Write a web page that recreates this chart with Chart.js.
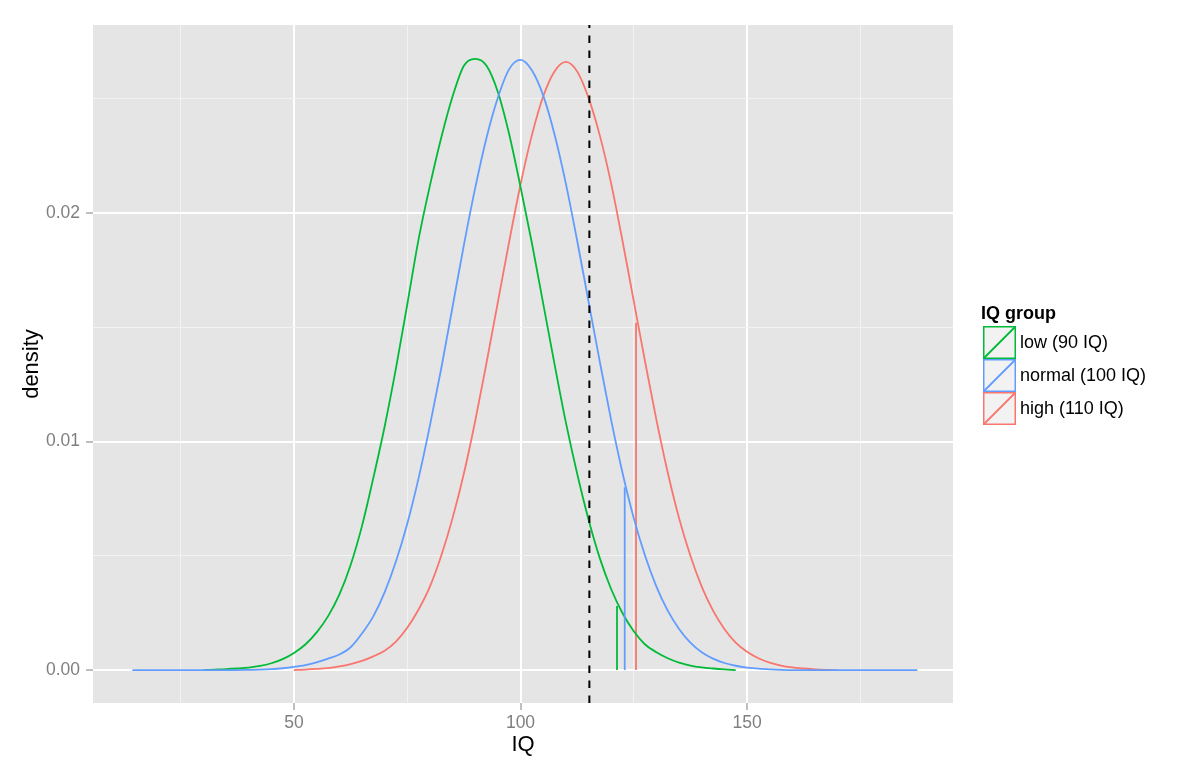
<!DOCTYPE html>
<html>
<head>
<meta charset="utf-8">
<script src="https://cdn.jsdelivr.net/npm/chart.js@4.4.1/dist/chart.umd.min.js"></script>
<style>
  body { margin: 0; background: #fff; font-family: 'Liberation Sans', Arial, sans-serif; }
  #wrap { position: relative; width: 1200px; height: 773px; }
  #legend { position: absolute; left: 981px; top: 302px; }
  #legend .title { font-weight: bold; font-size: 18px; height: 24px; line-height: 22px; }
  #legend .item { display: flex; align-items: center; height: 33px; }
  #legend .item svg { display: block; margin-left: 2px; margin-right: 4px; }
  #legend .item span { font-size: 18px; }
</style>
</head>
<body>
<div id="wrap">
  <canvas id="chart" width="1200" height="773"></canvas>
  <div id="legend"></div>
</div>
<script>
// IQ grid and densities
const lowIQ = [30, 32.5, 35, 37.5, 40, 42.5, 45, 47.5, 50, 52.5, 55, 57.5, 60, 62.5, 65, 67.5, 70, 72.5, 75, 77.5,
  80, 82.5, 85, 87.5, 90, 92.5, 95, 97.5, 100, 102.5, 105, 107.5, 110, 112.5, 115, 117.5, 120, 122.5, 125, 127.5,
  130, 132.5, 135, 137.5, 140, 142.5, 145, 147.5];
const lowDensity = [0, 0.00002, 0.00004, 0.00007, 0.00011, 0.00018, 0.00030, 0.00048, 0.00075, 0.00112, 0.00165, 0.00235,
  0.00330, 0.00460, 0.00630, 0.00840, 0.01065, 0.01320, 0.01600, 0.01885, 0.02120, 0.02330, 0.02510, 0.02645, 0.02675,
  0.02645, 0.02530, 0.02345, 0.02115, 0.01870, 0.01605, 0.01340, 0.01085, 0.00860, 0.00660, 0.00490, 0.00355, 0.00250,
  0.00170, 0.00112, 0.00078, 0.00052, 0.00033, 0.00020, 0.00012, 0.00007, 0.00003, 0];

const normalIQ = [14.3, 37.5, 40, 42.5, 45, 47.5, 50, 52.5, 55, 57.5, 60, 62.5, 65, 67.5, 70, 72.5, 75, 77.5, 80, 82.5,
  85, 87.5, 90, 92.5, 95, 97.5, 100, 102.5, 105, 107.5, 110, 112.5, 115, 117.5, 120, 122.5, 125, 127.5, 130, 132.5,
  135, 137.5, 140, 142.5, 145, 147.5, 150, 152.5, 155, 157.5, 160, 187.6];
const normalDensity = [0, 0, 0.00001, 0.00002, 0.00004, 0.00008, 0.00014, 0.00022, 0.00034, 0.00050, 0.00068, 0.00100,
  0.00160, 0.00235, 0.00340, 0.00475, 0.00640, 0.00840, 0.01070, 0.01320, 0.01590, 0.01860, 0.02110, 0.02330, 0.02505,
  0.02630, 0.02670, 0.02625, 0.02515, 0.02345, 0.02130, 0.01880, 0.01615, 0.01350, 0.01095, 0.00865, 0.00665, 0.00500,
  0.00365, 0.00260, 0.00180, 0.00120, 0.00078, 0.00050, 0.00031, 0.00019, 0.00011, 0.00006, 0.00003, 0.00001, 0, 0];

const highIQ = [50, 52.5, 55, 57.5, 60, 62.5, 65, 67.5, 70, 72.5, 75, 77.5, 80, 82.5, 85, 87.5, 90, 92.5, 95, 97.5,
  100, 102.5, 105, 107.5, 110, 112.5, 115, 117.5, 120, 122.5, 125, 127.5, 130, 132.5, 135, 137.5, 140, 142.5, 145,
  147.5, 150, 152.5, 155, 157.5, 160, 162.5, 165, 167.5, 170];
const highDensity = [0, 0.00002, 0.00005, 0.00009, 0.00016, 0.00026, 0.00040, 0.00060, 0.00085, 0.00125, 0.00185, 0.00265,
  0.00365, 0.00500, 0.00665, 0.00860, 0.01090, 0.01345, 0.01610, 0.01875, 0.02125, 0.02340, 0.02510, 0.02620, 0.02662,
  0.02620, 0.02505, 0.02340, 0.02130, 0.01880, 0.01615, 0.01350, 0.01095, 0.00865, 0.00665, 0.00500, 0.00365, 0.00260,
  0.00180, 0.00120, 0.00080, 0.00052, 0.00033, 0.00020, 0.00012, 0.00007, 0.00003, 0.00001, 0];

// short vertical marks (low, normal, high) and the dashed cut-off
const markIQ = [121.3, 123.0, 125.5];
const markDensity = [0.0028, 0.0080, 0.0152];
const cutoffIQ = 115.2;

const groupLabels = ['low (90 IQ)', 'normal (100 IQ)', 'high (110 IQ)'];
const groupColors = ['#00BA38', '#619CFF', '#F8766D'];

const xTicks = [25, 50, 75, 100, 125, 150, 175];
const xLabels = [50, 100, 150];
const yTicks = [0, 0.005, 0.01, 0.015, 0.02, 0.025];
const yLabels = [0, 0.01, 0.02];

const xRange = [5.63, 195.47];
const yRange = [-0.00144, 0.02823];

function pts(xs, ys) {
  return xs.map((x, i) => ({ x: x, y: ys[i] }));
}

const curveStyle = { showLine: true, pointRadius: 0, borderWidth: 1.8, cubicInterpolationMode: 'monotone', fill: false };

const curves = [
  { data: pts(lowIQ, lowDensity), order: 1 },
  { data: pts(normalIQ, normalDensity), order: 0 },
  { data: pts(highIQ, highDensity), order: 2 }
].map((c, i) => Object.assign({ label: groupLabels[i], borderColor: groupColors[i] }, curveStyle, c));

const marks = markIQ.map((x, i) => Object.assign({}, curveStyle, {
  label: 'mark ' + i,
  borderColor: groupColors[i],
  order: i === 1 ? 0 : (i === 0 ? 1 : 2),
  data: [{ x: x, y: 0 }, { x: x, y: markDensity[i] }]
}));

const cutoff = {
  label: 'cutoff',
  showLine: true, pointRadius: 0, borderWidth: 2, borderColor: '#000', borderDash: [7.5, 7.5],
  order: -1,
  data: [{ x: cutoffIQ, y: yRange[0] }, { x: cutoffIQ, y: yRange[1] }]
};

Chart.defaults.font.family = "'Liberation Sans', Arial, sans-serif";

function gridStyle(majors) {
  return {
    color: c => majors.includes(c.tick && c.tick.value) ? '#FFFFFF' : '#F2F2F2',
    lineWidth: c => majors.includes(c.tick && c.tick.value) ? 2 : 1,
    tickColor: c => majors.includes(c.tick && c.tick.value) ? '#7F7F7F' : 'rgba(0,0,0,0)',
    tickLength: 7,
    tickWidth: 1
  };
}

new Chart(document.getElementById('chart').getContext('2d'), {
  type: 'scatter',
  data: { datasets: [cutoff].concat(curves, marks) },
  options: {
    responsive: false,
    animation: false,
    events: [],
    layout: { padding: { top: 25, right: 247, left: 0, bottom: 0 } },
    plugins: { legend: { display: false }, tooltip: { enabled: false } },
    scales: {
      x: {
        type: 'linear',
        min: xRange[0], max: xRange[1],
        afterBuildTicks: s => { s.ticks = xTicks.map(v => ({ value: v })); },
        afterFit: s => { s.height = 70; },
        grid: gridStyle(xLabels),
        border: { display: false },
        ticks: {
          autoSkip: false, maxRotation: 0, padding: 3,
          color: '#7F7F7F', font: { size: 17.5 },
          callback: v => xLabels.includes(v) ? String(v) : ''
        },
        title: { display: true, text: 'IQ', color: '#000', font: { size: 22 }, padding: { top: 0, bottom: 15 } }
      },
      y: {
        type: 'linear',
        min: yRange[0], max: yRange[1],
        afterBuildTicks: s => { s.ticks = yTicks.map(v => ({ value: v })); },
        afterFit: s => { s.width = 93; },
        grid: gridStyle(yLabels),
        border: { display: false },
        ticks: {
          autoSkip: false, padding: 6,
          color: '#7F7F7F', font: { size: 17.5 },
          callback: v => yLabels.includes(v) ? v.toFixed(2) : ''
        },
        title: { display: true, text: 'density', color: '#000', font: { size: 22 }, padding: { top: 19, bottom: 0 } }
      }
    }
  },
  plugins: [{
    id: 'panelBg',
    beforeDraw: chart => {
      const a = chart.chartArea, ctx = chart.ctx;
      ctx.save();
      ctx.fillStyle = '#E5E5E5';
      ctx.fillRect(a.left, a.top, a.right - a.left, a.bottom - a.top);
      ctx.restore();
    }
  }]
});

// legend
const legend = document.getElementById('legend');
let html = '<div class="title">IQ group</div>';
groupLabels.forEach((lab, i) => {
  const c = groupColors[i];
  html += '<div class="item"><svg width="33" height="33">' +
    '<rect x="0.75" y="0.75" width="31.5" height="31.5" fill="#F2F2F2" stroke="' + c + '" stroke-width="1.5"/>' +
    '<line x1="1" y1="32" x2="32" y2="1" stroke="' + c + '" stroke-width="1.8"/>' +
    '</svg><span>' + lab + '</span></div>';
});
legend.innerHTML = html;
</script>
</body>
</html>
